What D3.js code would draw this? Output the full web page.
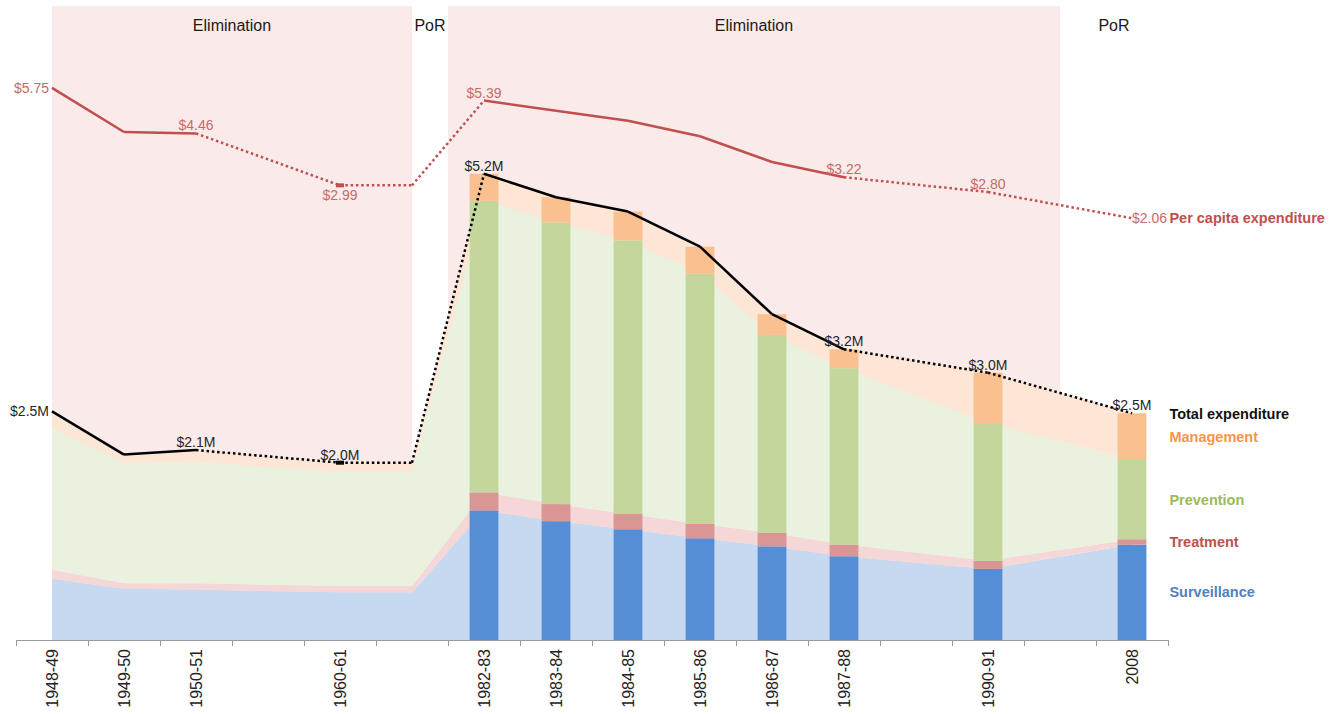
<!DOCTYPE html>
<html>
<head>
<meta charset="utf-8">
<script src="https://cdn.jsdelivr.net/npm/d3@7"></script>
<style>
body { margin: 0; background: #fff; }
text { font-family: Arial, "Liberation Sans", sans-serif; }
</style>
</head>
<body>
<div id="chart"></div>
<script>
var svgWidth = 1339;
var svgHeight = 714;

// category slots on the x axis (blank slots keep the time gaps)
var slotLabels = ["1948-49","1949-50","1950-51","","1960-61","","1982-83","1983-84","1984-85","1985-86","1986-87","1987-88","","1990-91","","2008"];

// one entry per data point
var pointSlots   = [0, 1, 2, 4, 5, 6, 7, 8, 9, 10, 11, 13, 15];
var surveillance = [0.68, 0.57, 0.56, 0.53, 0.53, 1.44, 1.32, 1.23, 1.13, 1.04, 0.93, 0.79, 1.06];
var treatment    = [0.10, 0.06, 0.07, 0.07, 0.07, 0.20, 0.19, 0.17, 0.16, 0.15, 0.13, 0.09, 0.06];
var prevention   = [1.58, 1.34, 1.35, 1.27, 1.27, 3.24, 3.13, 3.04, 2.78, 2.20, 1.96, 1.53, 0.88];
var management   = [0.18, 0.09, 0.13, 0.10, 0.10, 0.30, 0.28, 0.32, 0.30, 0.23, 0.21, 0.56, 0.52];
var totalExp     = [2.54, 2.06, 2.11, 1.97, 1.97, 5.18, 4.92, 4.76, 4.37, 3.62, 3.23, 2.97, 2.52];
var totalLabels  = ["$2.5M", "", "$2.1M", "$2.0M", "", "$5.2M", "", "", "", "", "$3.2M", "$3.0M", "$2.5M"];
var perCapita    = [5.75, 4.50, 4.46, 2.99, 2.99, 5.39, 5.10, 4.82, 4.38, 3.65, 3.22, 2.80, 2.06];
var perCapitaLabels = ["$5.75", "", "$4.46", "$2.99", "", "$5.39", "", "", "", "", "$3.22", "$2.80", "$2.06"];
var showBar      = [0, 0, 0, 0, 0, 1, 1, 1, 1, 1, 1, 1, 1];
// segment between point i and i+1 is dotted (estimated / gap years)
var dottedSeg    = [0, 0, 1, 1, 1, 0, 0, 0, 0, 0, 1, 1];
var markerSlots  = [4];

// programme phases, in slot units
var phaseNames  = ["Elimination", "PoR", "Elimination", "PoR"];
var phaseFrom   = [0, 5, 5.5, 14];
var phaseTo     = [5, 5.5, 14, 15.5];
var phaseShaded = [1, 0, 1, 0];

var seriesKeys   = ["surveillance", "treatment", "prevention", "management"];
var seriesNames  = ["Surveillance", "Treatment", "Prevention", "Management"];
var barColors    = ["#558ed5", "#d99694", "#c3d69b", "#fac090"];
var areaColors   = ["#c6d9f1", "#f4d7d6", "#eaf1df", "#fde6d6"];
var legendColors = ["#4f81bd", "#c0504d", "#9bbb59", "#f79646"];

var rows = pointSlots.map(function(s, i) {
  return {
    slot: s,
    surveillance: surveillance[i],
    treatment: treatment[i],
    prevention: prevention[i],
    management: management[i],
    total: totalExp[i],
    pc: perCapita[i],
    bar: showBar[i]
  };
});

var svg = d3.select("#chart")
    .append("svg")
    .attr("width", svgWidth)
    .attr("height", svgHeight);

var x = d3.scaleLinear().domain([-0.5, slotLabels.length - 0.5]).range([16, 1168]);
var y = d3.scaleLinear().domain([0, 7]).range([640, 10]);
var yPc = d3.scaleLinear().domain([0, 6]).range([291, 79]);
var step = x(1) - x(0);

// phase shading + labels
phaseNames.forEach(function(name, i) {
  if (phaseShaded[i]) {
    svg.append("rect")
      .attr("x", x(phaseFrom[i]))
      .attr("y", 6)
      .attr("width", x(phaseTo[i]) - x(phaseFrom[i]))
      .attr("height", y(0) - 6)
      .attr("fill", "#faeaea");
  }
  svg.append("text")
    .attr("x", (x(phaseFrom[i]) + x(phaseTo[i])) / 2)
    .attr("y", 25)
    .attr("dy", "0.35em")
    .attr("text-anchor", "middle")
    .attr("font-size", 16)
    .attr("fill", "#1a1a1a")
    .text(name);
});

var stacked = d3.stack().keys(seriesKeys)(rows);

// light areas behind
var area = d3.area()
  .x(function(d) { return x(d.data.slot); })
  .y0(function(d) { return y(d[0]); })
  .y1(function(d) { return y(d[1]); });

svg.append("g").selectAll("path")
  .data(stacked)
  .enter()
  .append("path")
  .attr("d", area)
  .attr("fill", function(d, i) { return areaColors[i]; });

// stacked bars
var barW = step * 0.4;
svg.append("g").selectAll("g")
  .data(stacked)
  .enter()
  .append("g")
  .attr("fill", function(d, i) { return barColors[i]; })
  .selectAll("rect")
  .data(function(d) { return d.filter(function(p) { return p.data.bar; }); })
  .enter()
  .append("rect")
  .attr("x", function(d) { return x(d.data.slot) - barW / 2; })
  .attr("width", barW)
  .attr("y", function(d) { return y(d[1]); })
  .attr("height", function(d) { return y(d[0]) - y(d[1]); });

// x axis
var axis = svg.append("g")
  .attr("transform", "translate(0," + y(0) + ")")
  .call(d3.axisBottom(x)
    .tickValues(d3.range(-0.5, slotLabels.length, 1))
    .tickFormat("")
    .tickSizeInner(6)
    .tickSizeOuter(0));
axis.selectAll("line, path").attr("stroke", "#9a9a9a");

svg.append("g").selectAll("text")
  .data(slotLabels)
  .enter()
  .append("text")
  .attr("transform", function(d, i) { return "translate(" + x(i) + "," + (y(0) + 9) + ") rotate(-90)"; })
  .attr("text-anchor", "end")
  .attr("dy", "0.35em")
  .attr("font-size", 16)
  .attr("fill", "#222")
  .text(function(d) { return d; });

// segmented lines (solid / dotted)
function drawLine(yScale, acc, color, width) {
  var g = svg.append("g");
  for (var i = 0; i < rows.length - 1; i++) {
    var a = rows[i], b = rows[i + 1];
    g.append("line")
      .attr("x1", x(a.slot)).attr("y1", yScale(acc(a)))
      .attr("x2", x(b.slot)).attr("y2", yScale(acc(b)))
      .attr("stroke", color)
      .attr("stroke-width", width)
      .attr("stroke-dasharray", dottedSeg[i] ? "2.5,2.8" : null);
  }
  rows.forEach(function(r) {
    if (markerSlots.indexOf(r.slot) >= 0) {
      g.append("rect")
        .attr("x", x(r.slot) - 4)
        .attr("y", yScale(acc(r)) - 2)
        .attr("width", 8)
        .attr("height", 4)
        .attr("fill", color);
    }
  });
}

drawLine(yPc, function(d) { return d.pc; }, "#c0504d", 2.5);
drawLine(y, function(d) { return d.total; }, "#000", 2.5);

// value labels
var last = rows.length - 1;
svg.append("g").selectAll("text")
  .data(rows)
  .enter()
  .append("text")
  .attr("font-size", 14)
  .attr("fill", "#c76a68")
  .attr("x", function(d, i) { return i === 0 ? x(d.slot) - 3 : x(d.slot); })
  .attr("y", function(d, i) {
    if (i === 0 || i === last) return yPc(d.pc);
    if (i === 3) return yPc(d.pc) + 15;
    return yPc(d.pc) - 3;
  })
  .attr("dy", function(d, i) { return (i === 0 || i === last) ? "0.35em" : null; })
  .attr("text-anchor", function(d, i) { return i === 0 ? "end" : (i === last ? "start" : "middle"); })
  .text(function(d, i) { return perCapitaLabels[i]; });

svg.append("g").selectAll("text")
  .data(rows)
  .enter()
  .append("text")
  .attr("font-size", 14)
  .attr("fill", "#262626")
  .attr("x", function(d, i) { return i === 0 ? x(d.slot) - 3 : x(d.slot); })
  .attr("y", function(d, i) { return i === 0 ? y(d.total) : y(d.total) - 3; })
  .attr("dy", function(d, i) { return i === 0 ? "0.35em" : null; })
  .attr("text-anchor", function(d, i) { return i === 0 ? "end" : "middle"; })
  .text(function(d, i) { return totalLabels[i]; });

// right-hand legend labels
var lx = x(rows[last].slot) + barW / 2 + 23;
var lastStack = stacked.map(function(s) { return s[last]; });

svg.append("text")
  .attr("x", lx).attr("y", yPc(rows[last].pc)).attr("dy", "0.35em")
  .attr("font-size", 14.5).attr("font-weight", "bold").attr("fill", "#c0504d")
  .text("Per capita expenditure");

svg.append("text")
  .attr("x", lx).attr("y", y(rows[last].total) + 1).attr("dy", "0.35em")
  .attr("font-size", 14.5).attr("font-weight", "bold").attr("fill", "#111")
  .text("Total expenditure");

svg.append("g").selectAll("text")
  .data(lastStack)
  .enter()
  .append("text")
  .attr("x", lx)
  .attr("y", function(d) { return y((d[0] + d[1]) / 2); })
  .attr("dy", "0.35em")
  .attr("font-size", 14.5)
  .attr("font-weight", "bold")
  .attr("fill", function(d, i) { return legendColors[i]; })
  .text(function(d, i) { return seriesNames[i]; });
</script>
</body>
</html>
